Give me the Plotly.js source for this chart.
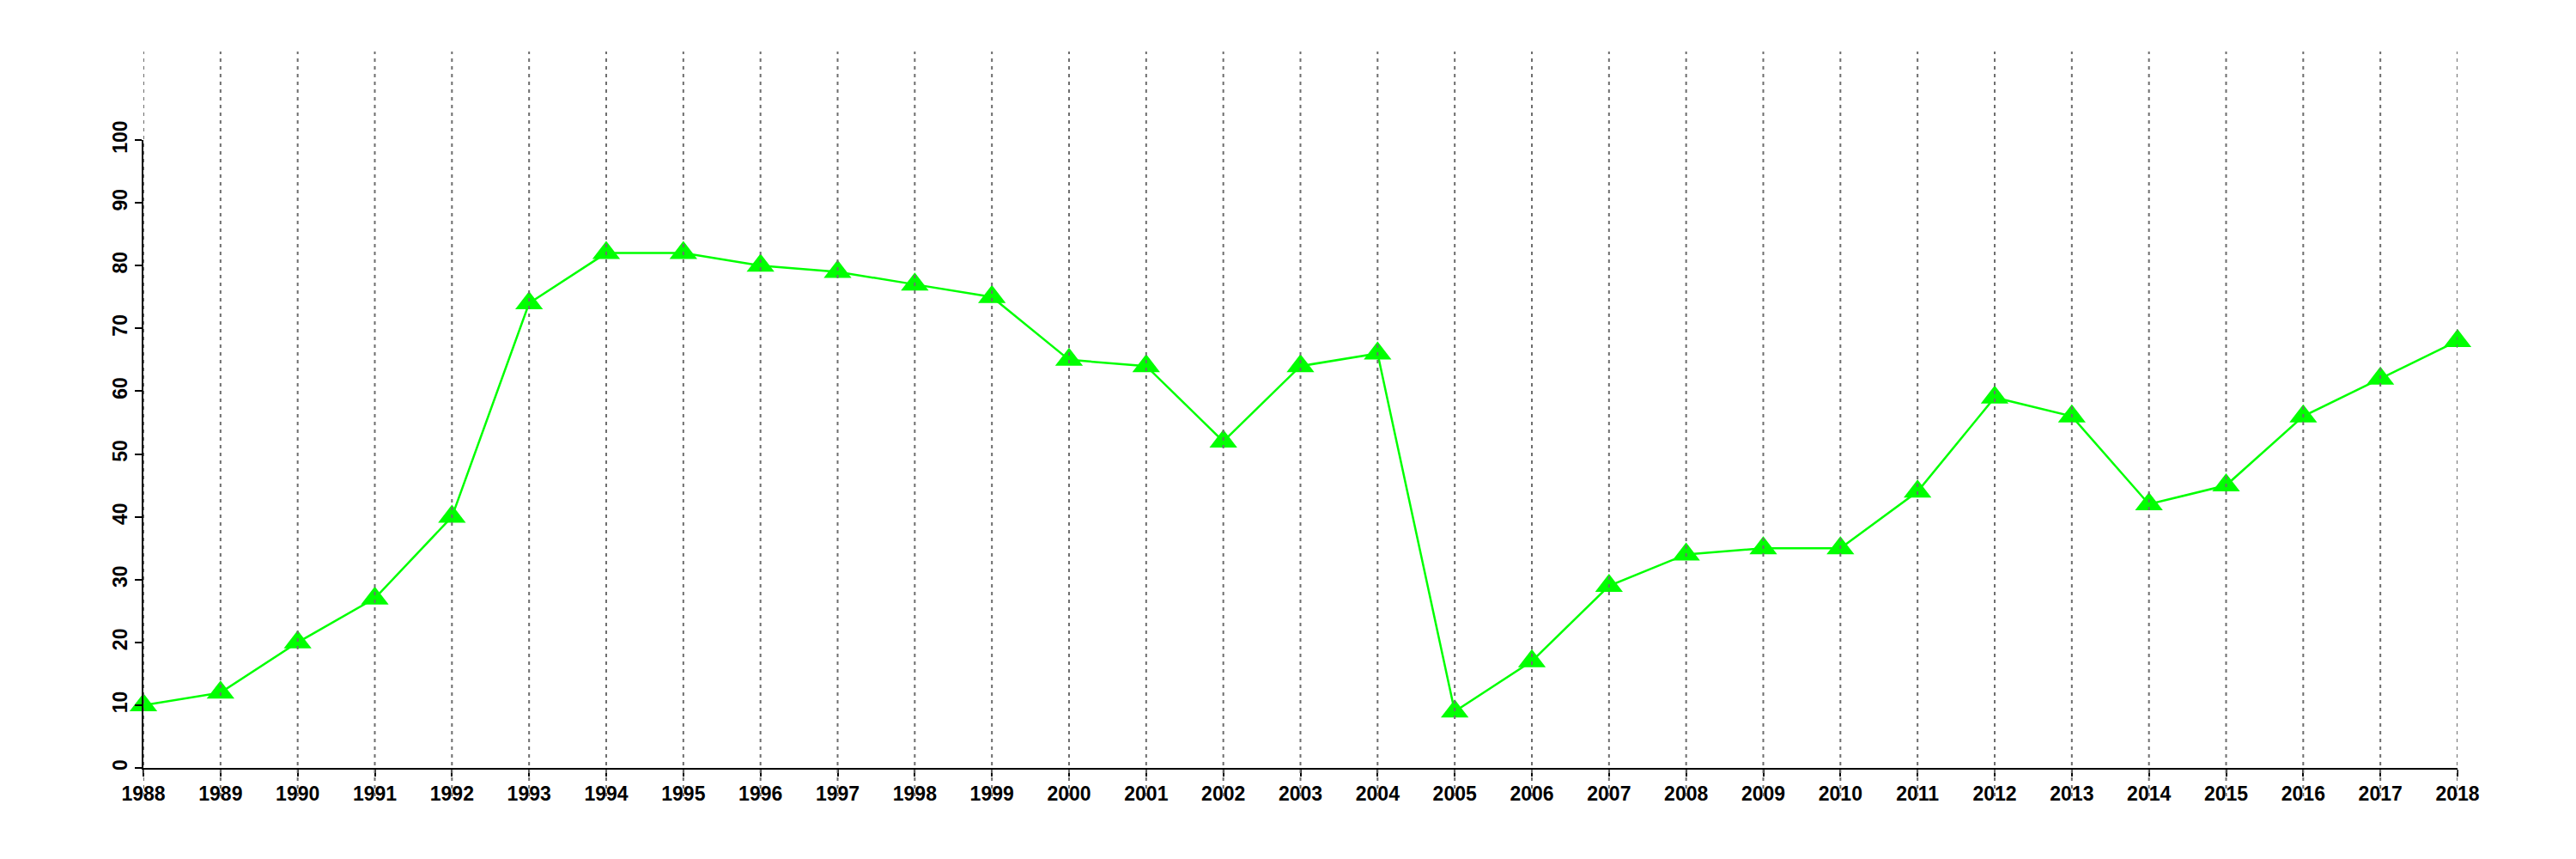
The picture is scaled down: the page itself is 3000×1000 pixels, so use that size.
<!DOCTYPE html>
<html>
<head>
<meta charset="utf-8">
<script src="https://cdn.plot.ly/plotly-3.0.1.min.js"></script>
<style>html,body{margin:0;padding:0;background:#fff;}</style>
</head>
<body>
<div id="chart" style="width:3000px;height:1000px;"></div>
<script>
// Data
const years = [1988, 1989, 1990, 1991, 1992, 1993, 1994, 1995, 1996, 1997,
               1998, 1999, 2000, 2001, 2002, 2003, 2004, 2005, 2006, 2007,
               2008, 2009, 2010, 2011, 2012, 2013, 2014, 2015, 2016, 2017, 2018];
const values = [10, 12, 20, 27, 40, 74, 82, 82, 80, 79,
                77, 75, 65, 64, 52, 64, 66, 9, 17, 29,
                34, 35, 35, 44, 59, 56, 42, 45, 56, 62, 68];
const yTicks = [0, 10, 20, 30, 40, 50, 60, 70, 80, 90, 100];
const xTickText = years.map(String);

const tickFont = {family: 'Liberation Sans, Arial, sans-serif', size: 23, weight: 'bold', color: '#000'};

const gridShapes = years.map(function (yr) {
  return {
    type: 'line', layer: 'above',
    xref: 'x', yref: 'paper',
    x0: yr, x1: yr, y0: -0.045, y1: 1.141,
    line: {color: '#6e6e6e', width: 2, dash: '4px,5px'}
  };
});

const trace = {
  x: years, y: values,
  type: 'scatter', mode: 'lines+markers',
  cliponaxis: false,
  line: {color: '#00ff00', width: 2.5},
  marker: {symbol: 'triangle-up', size: 28, color: '#00ff00', line: {width: 0}},
  hoverinfo: 'x+y'
};

const layout = {
  width: 3000, height: 1000,
  margin: {l: 167, r: 138, t: 163, b: 106, pad: 0},
  paper_bgcolor: '#fff', plot_bgcolor: '#fff',
  showlegend: false,
  xaxis: {
    range: [years[0], years[years.length - 1]],
    tickvals: years, ticktext: xTickText,
    showgrid: false, zeroline: false,
    showline: true, linecolor: '#000', linewidth: 2,
    ticks: 'outside', ticklen: 8, tickwidth: 2, tickcolor: '#000',
    tickfont: tickFont, tickangle: 0
  },
  yaxis: {
    range: [0, 100],
    tickvals: yTicks, ticktext: yTicks.map(String),
    showgrid: false, zeroline: false,
    showline: true, linecolor: '#000', linewidth: 2,
    ticks: 'outside', ticklen: 8, tickwidth: 2, tickcolor: '#000',
    tickfont: tickFont, tickangle: -90
  },
  shapes: gridShapes
};

Plotly.newPlot('chart', [trace], layout, {displayModeBar: false, staticPlot: true});
</script>
</body>
</html>
